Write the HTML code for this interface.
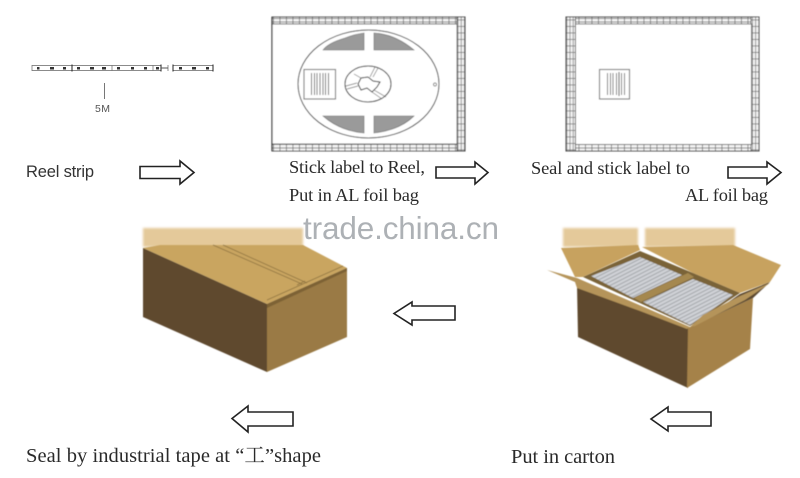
<!DOCTYPE html>
<html><head><meta charset="utf-8"><style>
html,body{margin:0;padding:0;background:#fff;width:800px;height:478px;overflow:hidden}
svg{display:block}
.s{font-family:"Liberation Serif","Noto Serif CJK SC",serif;font-size:18.4px;fill:#2a2a2a}
.a{fill:#fff;stroke:#222;stroke-width:1.6}
</style></head><body>
<svg width="800" height="478" viewBox="0 0 800 478" xmlns="http://www.w3.org/2000/svg">
<defs>
<pattern id="g" width="6.5" height="3.6" patternUnits="userSpaceOnUse"><rect width="6.5" height="3.6" fill="#f4f4f4"/><path d="M0 .4H6.5M.4 0V3.6" stroke="#6a6a6a" stroke-width=".8" fill="none"/></pattern>
<pattern id="gv" width="3.2" height="6.5" patternUnits="userSpaceOnUse"><rect width="3.2" height="6.5" fill="#f4f4f4"/><path d="M0 .4H3.2M.4 0V6.5" stroke="#6a6a6a" stroke-width=".7" fill="none"/></pattern>
<pattern id="t" width="30" height="3.4" patternUnits="userSpaceOnUse" patternTransform="rotate(-27)"><rect width="30" height="3.4" fill="#cfd1d6"/><path d="M0 1H30" stroke="#a2a5a9" stroke-width="1"/></pattern>
<filter id="b" x="-5%" y="-5%" width="110%" height="110%"><feGaussianBlur stdDeviation=".4"/></filter>
<filter id="b2" x="-5%" y="-20%" width="110%" height="140%"><feGaussianBlur stdDeviation="1.2"/></filter>
</defs>

<!-- strip -->
<path d="M32 65.500H161M32 70.500H161M173 65.500H213M173 70.500H213" stroke="#666" stroke-width=".8" fill="none"/>
<path d="M32 65V71M112 65V71M153 65V71M168 65V71" stroke="#777" stroke-width=".8"/>
<path d="M72 64.500V71.500M161 64.500V71.500M173 64.500V71.500M213 64.500V71.500" stroke="#222" stroke-width="1"/>
<path d="M161 68H168" stroke="#555" stroke-width="1"/>
<g fill="#333"><rect x="37" y="67" width="2.500" height="2.500"/><rect x="50" y="67" width="4" height="2.500"/><rect x="63" y="67" width="3" height="2.500"/><rect x="77" y="67" width="3" height="2.500"/><rect x="90" y="67" width="4" height="2.500"/><rect x="102" y="67" width="4" height="2.500"/><rect x="117" y="67" width="3" height="2.500"/><rect x="131" y="67" width="3" height="2.500"/><rect x="144" y="67" width="3" height="2.500"/><rect x="156" y="67" width="3" height="2.500"/><rect x="179" y="67" width="3" height="2.500"/><rect x="192" y="67" width="4" height="2.500"/><rect x="206" y="67" width="3" height="2.500"/></g>
<path d="M104.500 83V99" stroke="#777" stroke-width="1"/>
<text x="95" y="112" font-family="Liberation Sans,sans-serif" font-size="10.500" fill="#555" textLength="15">5M</text>
<text x="26" y="177" font-family="Liberation Sans,sans-serif" font-size="16.500" fill="#333" textLength="68">Reel strip</text>

<!-- frame 2 -->
<g filter="url(#b)">
<rect x="272" y="17" width="193" height="134" fill="#fff" stroke="#333" stroke-width="1"/>
<rect x="272" y="17" width="193" height="7" fill="url(#g)" stroke="#444" stroke-width=".8"/>
<rect x="272" y="144" width="193" height="7" fill="url(#g)" stroke="#444" stroke-width=".8"/>
<rect x="457" y="17" width="8" height="134" fill="url(#gv)" stroke="#444" stroke-width=".8"/>
<path d="M272 17V151" stroke="#222" stroke-width="1.200"/>
<ellipse cx="368.500" cy="84" rx="70.500" ry="54" fill="#fff" stroke="#444" stroke-width="1"/>
<path d="M323 50Q328 43 345 38Q355 34 364 33V50Z M374 33Q395 34 414 50H374Z M323 116H364V133Q340 131 323 116Z M374 116H414Q400 130 374 133Z" fill="#9a9a9a" stroke="#666" stroke-width=".6"/>
<rect x="304" y="69.500" width="31.500" height="29.500" fill="#fff" stroke="#777" stroke-width="1.100"/>
<path d="M311.500 73V95M314.500 73V95M317 73V95M320 73V95M323 73V95M325.500 73V95M328.500 73V95" stroke="#444" stroke-width=".8"/>
<ellipse cx="368" cy="84" rx="23" ry="18" fill="#fff" stroke="#333" stroke-width="1"/>
<path d="M361 78L368 77L373 81L380 82L377 87L372 92L367 88L361 90L358 84Z" fill="#fff" stroke="#333" stroke-width="1"/>
<path d="M370 77L375 67M373 77L378 68M374 90L386 97M372 92L382 99M358 86L347 89M357 83L346 86M354 74L361 78" stroke="#666" stroke-width=".7" fill="none"/>
<circle cx="435" cy="84.500" r="1.500" fill="#fff" stroke="#555" stroke-width=".7"/>
</g>

<!-- frame 3 -->
<g filter="url(#b)">
<rect x="566" y="17" width="193" height="134" fill="url(#g)" stroke="#444" stroke-width="1"/>
<rect x="566" y="17" width="9.500" height="134" fill="url(#gv)" stroke="#444" stroke-width=".8"/>
<rect x="751" y="17" width="8" height="134" fill="url(#gv)" stroke="#444" stroke-width=".8"/>
<rect x="575.500" y="24" width="176" height="120.500" fill="#fff" stroke="#555" stroke-width=".8"/>
<rect x="599.500" y="69.500" width="30" height="29.500" fill="#fff" stroke="#777" stroke-width="1.100"/>
<path d="M607.500 73V95M610.500 73V95M613 73V95M616.500 73V95M621.500 73V95M624.500 73V95" stroke="#555" stroke-width=".8"/>
<path d="M619 72V96" stroke="#222" stroke-width="1"/>
</g>

<!-- right arrows -->
<path class="a" d="M140 166.500H180V161L194 172.500L180 184V178.500H140Z"/>
<path class="a" d="M436 167H475V162L488 172.500L475 184V178H436Z"/>
<path class="a" d="M728 167H767V162L781 172.500L767 184V178H728Z"/>
<!-- left arrows -->
<path class="a" d="M455 306H412V302L394 313.500L412 325V320H455Z"/>
<path class="a" d="M293 412H248V406L232 418.500L248 432V426H293Z"/>
<path class="a" d="M711 412H668V407L651 419L668 431V426H711Z"/>

<!-- captions -->
<text class="s" x="289" y="173" textLength="136">Stick label to Reel,</text>
<text class="s" x="289" y="201" textLength="130">Put in AL foil bag</text>
<text class="s" x="531" y="174" textLength="159">Seal and stick label to</text>
<text class="s" x="685" y="201" textLength="83">AL foil bag</text>
<text class="s" x="26" y="462" textLength="295" style="font-size:20.5px">Seal by industrial tape at “工”shape</text>
<text class="s" x="511" y="463" textLength="104" style="font-size:20.5px">Put in carton</text>

<!-- closed box -->
<rect x="143" y="228" width="160" height="19" fill="#e4c99a" filter="url(#b2)"/>
<g filter="url(#b)">
<path d="M143 248L160 245H303L347 268L267 304Z" fill="#c9a560"/>
<path d="M143 248L267 304V372L143 317Z" fill="#5f4a2e"/>
<path d="M267 304L347 268V337L267 372Z" fill="#9a7a45"/>
<path d="M267 304L347 268V271L267 308Z" fill="#7d6236"/>
<path d="M213 245L302 284M223 245L307 283M267 300L343 266M297 285L305 281" stroke="#8e7340" stroke-width=".8" fill="none"/>
</g>

<!-- open box -->
<rect x="563" y="228" width="75" height="19" fill="#e4c99a" filter="url(#b2)"/>
<rect x="645" y="228" width="90" height="19" fill="#e4c99a" filter="url(#b2)"/>
<g filter="url(#b)">
<path d="M577 285L688 328V388L578 337Z" fill="#5f4a2e"/>
<path d="M688 328L753 298L750 349L687 388Z" fill="#a5824a"/>
<path d="M561 248L638 245L640 250L583 277L575 277Z" fill="#c7a25e"/>
<path d="M642 247L733 245L781 265L770 282L740 293L693 273Z" fill="#c7a25e"/>
<path d="M583 277L640 251L693 273L740 293L690 326Z" fill="#7a6338"/>
<path d="M591 276L640 257L682 275L633 298Z" fill="url(#t)"/>
<path d="M643 302L693 279L733 295L690 325Z" fill="url(#t)"/>
<path d="M634 298L688 273L694 277L641 302Z" fill="#a58850"/>
<path d="M547 270L577 278L690 327L687 329L640 311L577 288L575 282Z" fill="#b5945a"/>
<path d="M692 327L740 294L770 282L753 298L697 324Z" fill="#5b4830"/>
<path d="M690 327L703 315L740 296L770 283L745 300L695 326Z" fill="#b5945a"/>
</g>

<!-- watermark -->
<text x="303" y="239" font-family="Liberation Sans,sans-serif" font-size="31.500" fill="#adb1b5" textLength="196">trade.china.cn</text>
</svg>
</body></html>
